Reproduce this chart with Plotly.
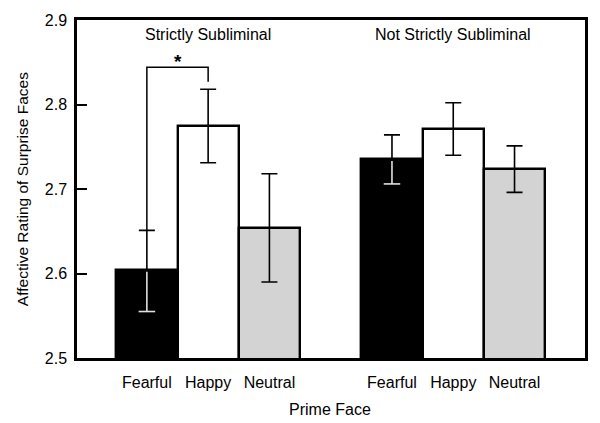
import plotly.graph_objects as go

groups = ["Strictly Subliminal", "Not Strictly Subliminal"]
faces = ["Fearful", "Happy", "Neutral"]
colors = ["#000000", "#ffffff", "#d3d3d3"]
# means[group][face]
means = [[2.604, 2.775, 2.654], [2.735, 2.771, 2.724]]
err_hi = [[2.651, 2.818, 2.718], [2.764, 2.802, 2.751]]
err_lo = [[2.555, 2.731, 2.590], [2.706, 2.740, 2.696]]
y_ticks = [2.5, 2.6, 2.7, 2.8, 2.9]

GAP = 4
FONT = "Liberation Sans, Arial, Helvetica, sans-serif"
FS = 16

fig = go.Figure()
xs_all, labels_all = [], []
for fi, face in enumerate(faces):
    xs = [g * GAP + fi for g in range(len(groups))]
    ys = [means[g][fi] for g in range(len(groups))]
    up = [err_hi[g][fi] - means[g][fi] for g in range(len(groups))]
    dn = [means[g][fi] - err_lo[g][fi] for g in range(len(groups))]
    fig.add_trace(go.Bar(
        x=xs, y=ys, width=1,
        marker=dict(color=colors[fi], line=dict(color="black", width=2.4)),
        error_y=dict(type="data", symmetric=False, array=up, arrayminus=dn,
                     color="black", thickness=1.6, width=8),
        showlegend=False, hoverinfo="skip"))
    xs_all += xs
    labels_all += [face] * len(groups)
    # light segments of error bars inside dark bars
    if colors[fi] == "#000000":
        for g in range(len(groups)):
            x0 = g * GAP + fi
            lo, top = err_lo[g][fi], min(means[g][fi], err_hi[g][fi])
            fig.add_shape(type="line", x0=x0, x1=x0, y0=lo, y1=top - 0.002,
                          line=dict(color="#e0e0e0", width=1.6), layer="above")
            fig.add_shape(type="line", x0=x0 - 0.135, x1=x0 + 0.135, y0=lo, y1=lo,
                          line=dict(color="#e0e0e0", width=1.6), layer="above")

# significance bracket between Fearful and Happy (strictly subliminal)
b_top = 2.844
fig.add_shape(type="path",
              path=f"M 0,{err_hi[0][0]} L 0,{b_top} L 1,{b_top} L 1,{err_hi[0][1] + 0.009}",
              line=dict(color="black", width=1.5))
fig.add_annotation(x=0.5, y=2.851, text="<b>*</b>", showarrow=False,
                   yanchor="middle", font=dict(size=19, color="black", family=FONT))

for g, name in enumerate(groups):
    fig.add_annotation(x=g * GAP + 1, y=2.883, text=name, showarrow=False,
                       yanchor="middle", font=dict(size=FS, color="black", family=FONT))

# axis titles
fig.add_annotation(xref="paper", yref="paper", x=-0.108, y=0.5,
                   text="Affective Rating of Surprise Faces", textangle=-90,
                   showarrow=False, xanchor="center", yanchor="middle",
                   font=dict(size=15.5, color="black", family=FONT))
fig.add_annotation(xref="paper", yref="paper", x=0.498, y=-0.151,
                   text="Prime Face", showarrow=False, xanchor="center", yanchor="middle",
                   font=dict(size=FS, color="black", family=FONT))

fig.update_layout(
    width=600, height=423,
    margin=dict(l=77, r=15, t=20, b=65, autoexpand=False),
    plot_bgcolor="white", paper_bgcolor="white",
    font=dict(family=FONT, size=FS, color="black"),
    bargap=0,
    xaxis=dict(range=[-1.14, 7.15], tickvals=xs_all, ticktext=labels_all,
               showline=True, mirror=True, linecolor="black", linewidth=2.5,
               ticks="", showgrid=False, zeroline=False, ticklabelstandoff=8,
               automargin=False),
    yaxis=dict(range=[2.5, 2.9], tickvals=y_ticks,
               ticktext=[f"{v:.1f}" for v in y_ticks],
               showline=True, mirror=True, linecolor="black", linewidth=2.5,
               ticks="inside", ticklen=10, tickwidth=2, tickcolor="black",
               showgrid=False, zeroline=False, ticklabelstandoff=4,
               automargin=False),
)
fig.write_html("out.html",
               config={"displayModeBar": False},
               post_script="document.body.style.margin='0px';")
